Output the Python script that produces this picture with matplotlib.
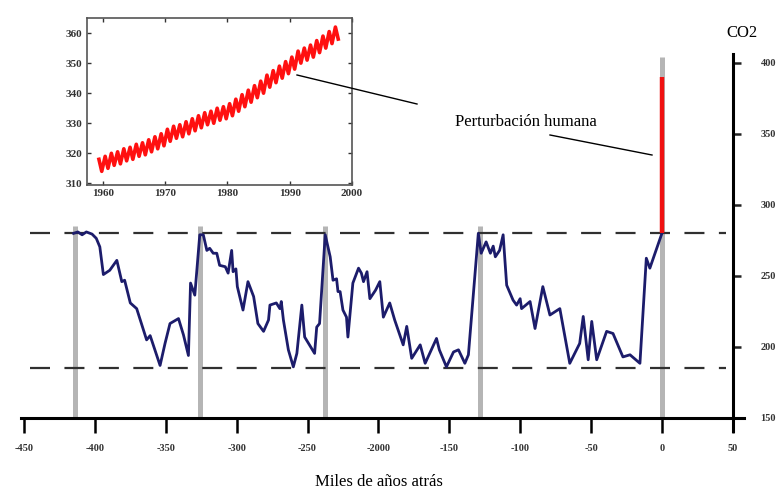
import matplotlib
matplotlib.use('Agg')
import matplotlib.pyplot as plt
from matplotlib.lines import Line2D

plt.rcParams['font.family'] = ['Liberation Serif', 'DejaVu Serif']

# Vostok: miles de años / CO2 (ppm)
edad = [-415, -412, -409, -406, -402, -399, -396.5, -394, -389.5, -384.5, -381, -379, -375, -370.5,
        -363.5, -361, -354, -350.5, -347, -341, -337.5, -334, -332.5, -329.5, -326,
        -323.5, -321, -319, -316.5, -314, -312, -308, -306, -303.5, -302.5, -300.5, -299.5, -295.5,
        -292, -288, -285, -281, -277.5, -276.5, -272, -269.5, -268.5, -267, -263.5, -260, -257.5,
        -254, -252, -245, -243.5, -241.5, -237.5,
        -234, -232, -229.5, -228.5, -227, -225, -222.5, -221.5, -218, -214, -212, -210.5, -208, -206,
        -202, -199, -196.5, -192, -188.5, -182.5, -180, -176.5, -170.5, -167, -159, -157, -152, -147,
        -143.5, -139, -136.5, -129.5,
        -127.5, -124, -121, -119, -117.5, -114.5, -112, -109.5, -105, -102.5, -100, -99, -93, -89.5,
        -84, -79, -72, -65, -58, -55.5, -52, -49.5, -46, -39, -34.5, -27.5, -22.5, -15.5, -11, -8.5, 0]
co2 = [280, 281, 279, 281, 279.5, 276.5, 270.5, 251, 254, 261, 246, 247, 231, 227,
       205, 208, 187, 202.5, 216.5, 220, 208.5, 194, 245, 236.5, 279,
       279, 268, 269.5, 266, 266, 257.5, 256.5, 252, 268, 253, 255, 242.5, 226,
       246, 235.5, 216.5, 211, 219, 229.5, 231, 227, 232, 219, 198, 186, 195.5,
       229.5, 207, 195.5, 214, 216.5, 279,
       263.5, 247, 248, 239, 239, 226, 221, 207, 245, 255.5, 252, 246, 253, 234,
       240, 246, 221, 231, 219, 201.5, 214.5, 192, 201.5, 188.5, 206, 198, 186, 196.5,
       198, 188.5, 194.5, 280,
       266, 274, 266, 271, 263.5, 268, 279, 243.5, 233, 229.5, 234, 227, 232, 213,
       242.5, 222.5, 227, 188.5, 202.5, 221.5, 191, 218, 191, 211, 209.5, 193, 194.5, 188.5, 262.5, 255.5, 280]

interglaciares = [-414, -326, -238, -128, 0]
niveles = [280, 185]
actual = [280, 390]

# Mauna Loa (recuadro)
anios = list(range(1959, 1998))
maximos = [318, 319, 320, 320.5, 321.5, 322, 323, 323.5, 324.5, 325.5, 326.5, 328, 329, 329.5, 330.5,
           331.5, 332.5, 333.5, 334, 335, 335.5, 336.5, 338, 339.5, 341, 342.5, 344, 346, 347.5, 349,
           350.5, 352, 354, 355, 356, 357.5, 359, 360.5, 362]
minimos = [314, 315, 316, 316.5, 317.5, 318, 319, 319.5, 320.5, 321.5, 322.5, 324, 325, 325.5, 326.5,
           327.5, 328.5, 329.5, 330, 331, 331.5, 332.5, 334, 335.5, 337, 338.5, 340, 342, 343.5, 345,
           346.5, 348, 350, 351, 352, 353.5, 355, 356.5, 358]

xt = [-450, -400, -350, -300, -250, -200, -150, -100, -50, 0, 50]
xt_lab = ['-450', '-400', '-350', '-300', '-250', '-2000', '-150', '-100', '-50', '0', '50']
yt = [150, 200, 250, 300, 350, 400]

fig = plt.figure(figsize=(7.82, 5.01), dpi=100)
ax = fig.add_axes([0.0216, 0.1657, 0.9336, 0.737])
ax.set_xlim(-455, 60)
ax.set_ylim(150, 410)

for x in interglaciares:
    top = 404 if x == 0 else 285
    ax.plot([x, x], [150, top], color='#b5b5b5', lw=3.6, zorder=1, solid_capstyle='butt')
for n in niveles:
    ax.plot([-446, 45], [n, n], color='#303030', lw=1.6, dashes=(9, 6.5), zorder=2)
ax.plot(edad, co2, color='#1c1c6b', lw=2.0, zorder=3)
ax.plot([0, 0], actual, color='#f01010', lw=3.2, zorder=4, solid_capstyle='butt')

for s in ['top', 'left']:
    ax.spines[s].set_visible(False)
ax.spines['right'].set_position(('data', 50))
ax.spines['right'].set_bounds(141, 406)
ax.spines['right'].set_linewidth(2.2)
ax.spines['bottom'].set_bounds(-452, 58)
ax.spines['bottom'].set_linewidth(2.2)
ax.yaxis.tick_right()
ax.set_yticks(yt)
ax.set_yticklabels([str(v) for v in yt])
ax.set_xticks(xt)
ax.set_xticklabels(xt_lab)
ax.tick_params(axis='x', direction='out', length=11, width=1.8, pad=8, labelsize=7.5)
ax.tick_params(axis='y', direction='out', length=6, width=1.8, pad=14, labelsize=7.5,
               colors='#222222')
for lab in ax.get_xticklabels() + ax.get_yticklabels():
    lab.set_fontweight('bold')
    lab.set_color('#333333')

fig.text(0.484, 0.022, 'Miles de años atrás', ha='center', va='bottom', fontsize=12)
fig.text(0.949, 0.935, 'CO2', ha='center', va='center', fontsize=12)
fig.text(0.672, 0.757, 'Perturbación humana', ha='center', va='center', fontsize=12)

# recuadro
ins = fig.add_axes([0.111, 0.631, 0.339, 0.333])
t = []
v = []
for a, hi, lo in zip(anios, maximos, minimos):
    t += [a + 0.35, a + 0.8]
    v += [hi, lo]
ins.plot(t, v, color='#ff1010', lw=2.6)
ins.set_xlim(1957.4, 2000)
ins.set_ylim(309.5, 365)
ins.set_xticks([1960, 1970, 1980, 1990, 2000])
ins.set_yticks([310, 320, 330, 340, 350, 360])
ins.tick_params(direction='in', top=True, right=True, length=3, width=1, labelsize=8, pad=3,
                colors='#333333')
for lab in ins.get_xticklabels() + ins.get_yticklabels():
    lab.set_fontweight('bold')
for s in ins.spines.values():
    s.set_color('#555555')
    s.set_linewidth(1.2)

W, H = 782, 501
fig.add_artist(Line2D([297 / W, 417 / W], [1 - 75 / H, 1 - 104 / H], color='black', lw=1))
fig.add_artist(Line2D([550 / W, 652 / W], [1 - 135 / H, 1 - 155 / H], color='black', lw=1))

fig.savefig('out.png', dpi=100)
